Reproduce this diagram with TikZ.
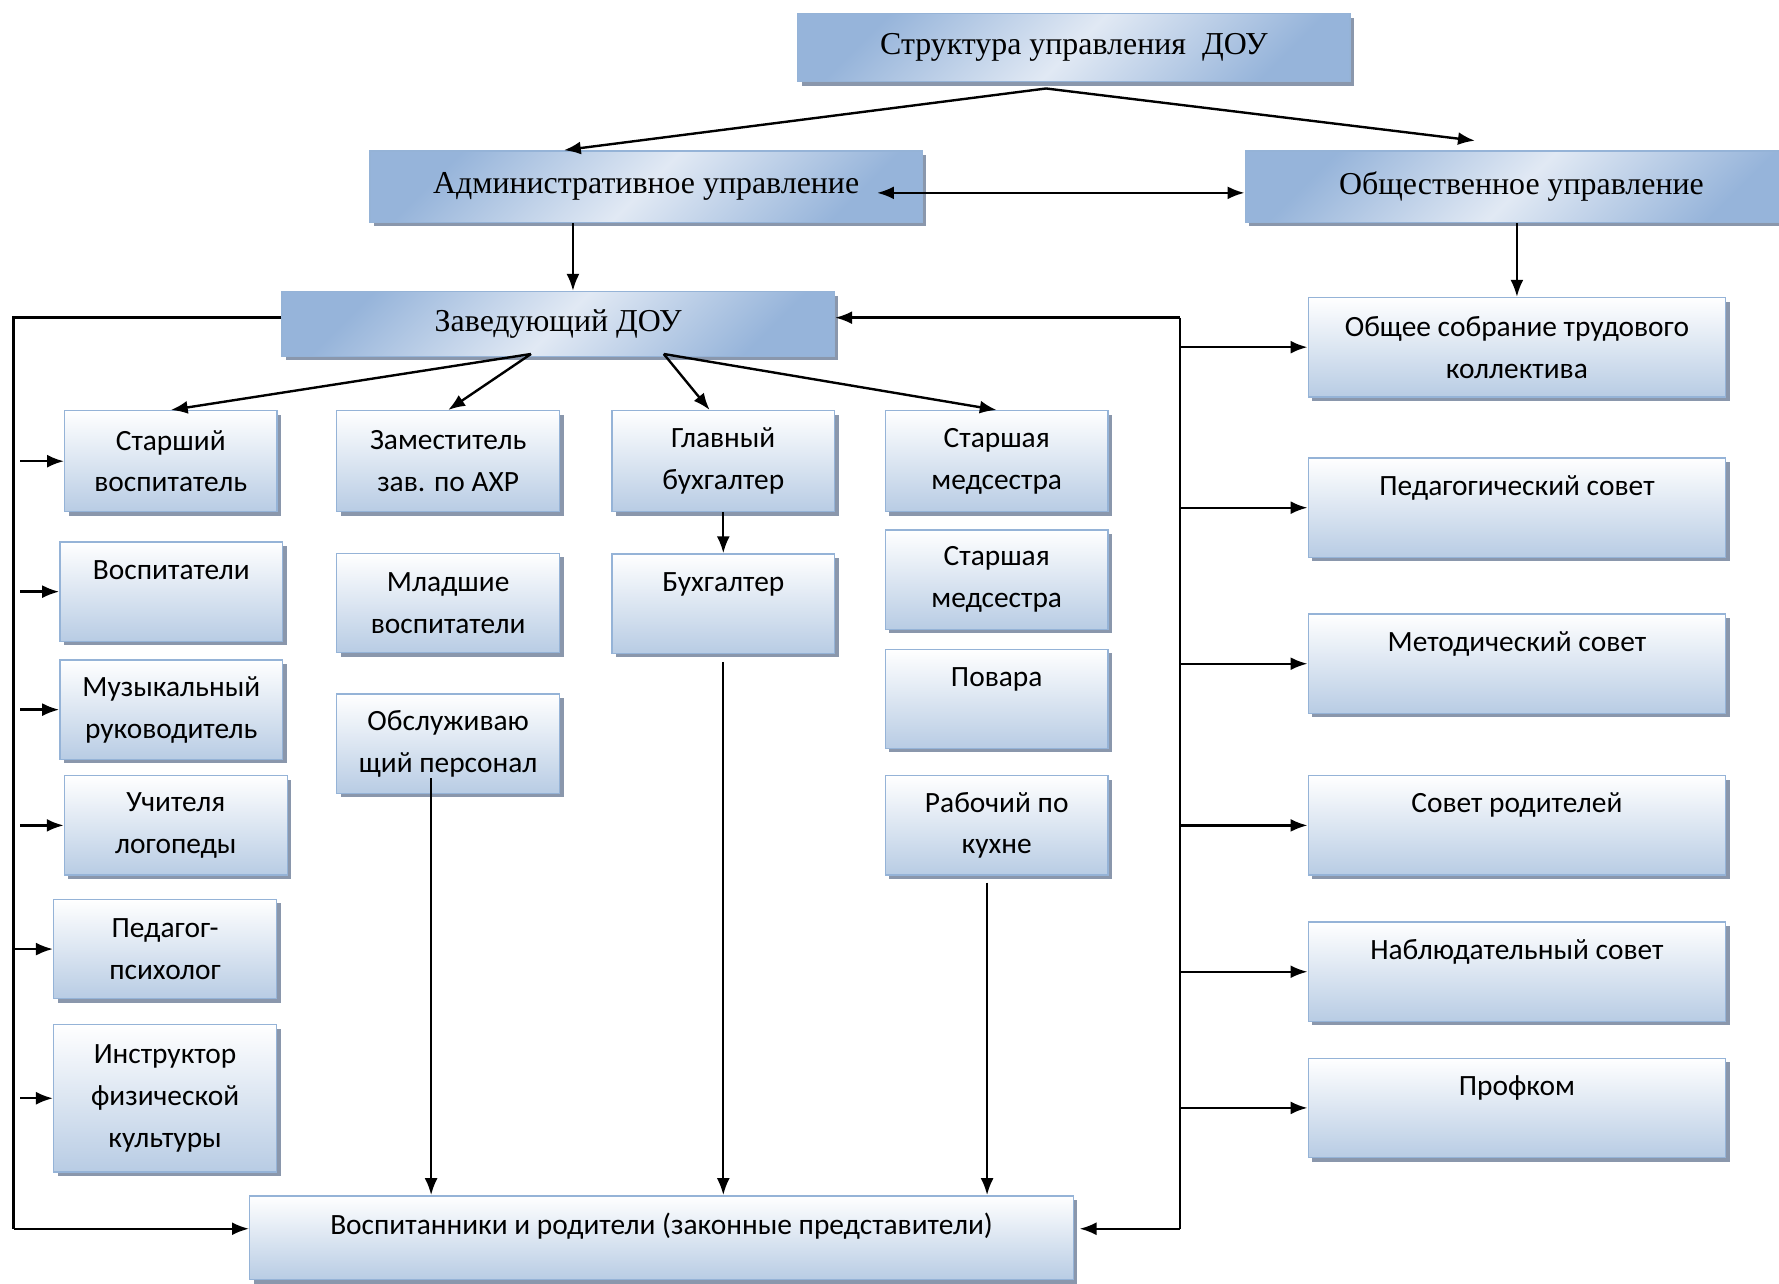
\documentclass[tikz,border=0pt]{standalone}
\usepackage{fontspec}
\setmainfont{Liberation Serif}
\newfontfamily\calibfont{Carlito}
\usetikzlibrary{calc, arrows, arrows.meta, shadows}
\definecolor{boxline}{RGB}{149,179,215}
\definecolor{boxdark}{RGB}{150,180,218}
\definecolor{boxlight}{RGB}{225,233,244}
\definecolor{boxlow}{RGB}{184,204,228}
\definecolor{boxshade}{RGB}{138,151,172}

\begin{document}
\begin{tikzpicture}[x=0.02cm, y=-0.02cm]
\tikzset{>={Latex[length=8.5pt, width=6.5pt]},
  headbox/.style={draw=boxline, line width=0.7pt, left color=boxdark, right color=boxdark,
    middle color=boxlight, shading angle=45, inner sep=0pt, minimum width=9.74cm,
    drop shadow={shadow xshift=0.07cm, shadow yshift=-0.07cm, fill=boxshade, opacity=1},
    font=\fontsize{16}{19}\selectfont},
  staffbox/.style={draw=boxline, line width=0.7pt, top color=white, bottom color=boxlow,
    inner sep=0pt, minimum width=3.93cm, minimum height=1.75cm, align=center,
    drop shadow={shadow xshift=0.07cm, shadow yshift=-0.07cm, fill=boxshade, opacity=1},
    font=\calibfont\fontsize{14.75}{21}\selectfont},
  councilbox/.style={staffbox, minimum width=7.36cm},
  topline/.style={text height=0.35cm, text depth=0.79cm},
  every path/.style={line width=1.2pt}
}
\useasboundingbox (0,0) rectangle (1568,1131);

  \node[headbox, minimum height=1.2cm] (title) at (946.5,42) {Структура управления~ ДОУ};
  \node[headbox, minimum height=1.26cm] (adm) at (569.5,164.5) {Административное управление};
  \node[headbox, minimum height=1.26cm] (pub) at (1341,164.5) {Общественное управление};
  \node[headbox, minimum height=1.14cm] (zav) at (492,285.5) {Заведующий ДОУ};

  \node[staffbox, minimum width=3.74cm, minimum height=1.78cm] (ss) at (150.5,406.5) {Старший\\воспитатель};
  \node[staffbox, minimum height=1.78cm] (zam) at (395,406.5) {Заместитель\\зав. по АХР};
  \node[staffbox, minimum height=1.78cm] (gb) at (637.5,406.5) {Главный\\бухгалтер};
  \node[staffbox, minimum height=1.78cm] (sm1) at (878.5,406.5) {Старшая\\медсестра};
  \node[staffbox, topline] (vos) at (151,521.5) {Воспитатели};
  \node[staffbox] (ml) at (395,531.5) {Младшие\\воспитатели};
  \node[staffbox, topline] (bh) at (637.5,532) {Бухгалтер};
  \node[staffbox] (sm2) at (878.5,511) {Старшая\\медсестра};
  \node[staffbox] (mus) at (151,625.5) {Музыкальный\\руководитель};
  \node[staffbox] (obs) at (395,655.5) {Обслуживаю\\щий персонал};
  \node[staffbox, topline] (pov) at (878.5,616) {Повара};
  \node[staffbox] (uch) at (155,727.5) {Учителя\\логопеды};
  \node[staffbox] (rab) at (878.5,727.5) {Рабочий по\\кухне};
  \node[staffbox] (psy) at (145.5,836.5) {Педагог-\\психолог};
  \node[staffbox, minimum height=2.6cm] (ins) at (145.5,968) {Инструктор\\физической\\культуры};
  \node[staffbox, minimum width=14.52cm, minimum height=1.48cm, text height=0.35cm, text depth=0.47cm]
    (vp) at (583,1091) {Воспитанники и родители (законные представители)};

  \node[councilbox] (obsh) at (1337,306) {Общее собрание трудового\\коллектива};
  \node[councilbox, topline] (ped) at (1337,447.5) {Педагогический совет};
  \node[councilbox, topline] (met) at (1337,585) {Методический совет};
  \node[councilbox, topline] (sr) at (1337,727.5) {Совет родителей};
  \node[councilbox, topline] (nab) at (1337,856.5) {Наблюдательный совет};
  \node[councilbox, topline] (prof) at (1337,976.5) {Профком};

  \coordinate (t0) at (922,78);
  \coordinate (a1) at (497,0);
  \coordinate (p1) at (1300,124);
  \coordinate (a2) at (773,170);
  \coordinate (az) at (505,0);
  \coordinate (L) at (12,280);
  \coordinate (L2) at (18,0);
  \coordinate (R) at (1040,280);
  \coordinate (vy) at (0,1083);
  \coordinate (z1) at (468,312);
  \coordinate (z2) at (585,312);
  \coordinate (o1) at (380,686);
  \coordinate (k1) at (870,778);

  \draw[->] (t0) -- (adm.north -| a1);
  \draw[->] (t0) -- (p1);
  \draw[<->] (a2) -- (pub.west |- a2);
  \draw[->] (adm.south -| az) -- (zav.north -| az);
  \draw[->] (pub.south -| obsh) -- (obsh.north);

  \draw (zav.west |- L) -- (L) -- (L |- vy);
  \draw[->] (L |- vy) -- (vp.west |- vy);
  \foreach \b in {ss,vos,mus,uch,ins}
    \draw[->] (L2 |- \b) -- (\b);
  \draw[->] (L |- psy) -- (psy);

  \draw[->] (R) -- (zav.east |- R);
  \draw (R) -- (R |- vy);
  \draw[->] (R |- vy) -- ($(vp.east |- vy)+(5,0)$);
  \foreach \b in {obsh,ped,met,sr,nab,prof}
    \draw[->] (R |- \b) -- (\b);

  \draw[->] (z1) -- (ss.north);
  \draw[->] (z1) -- (zam.north);
  \draw[->] (z2) -- ($(gb.north)+(-12,0)$);
  \draw[->] (z2) -- (sm1.north);
  \draw[->] (gb.south) -- (bh.north);
  \draw[->] (o1) -- (o1 |- vp.north);
  \draw[->] ([yshift=-0.14cm]bh.south) -- (bh.south |- vp.north);
  \draw[->] (k1) -- (k1 |- vp.north);
\end{tikzpicture}
\end{document}
